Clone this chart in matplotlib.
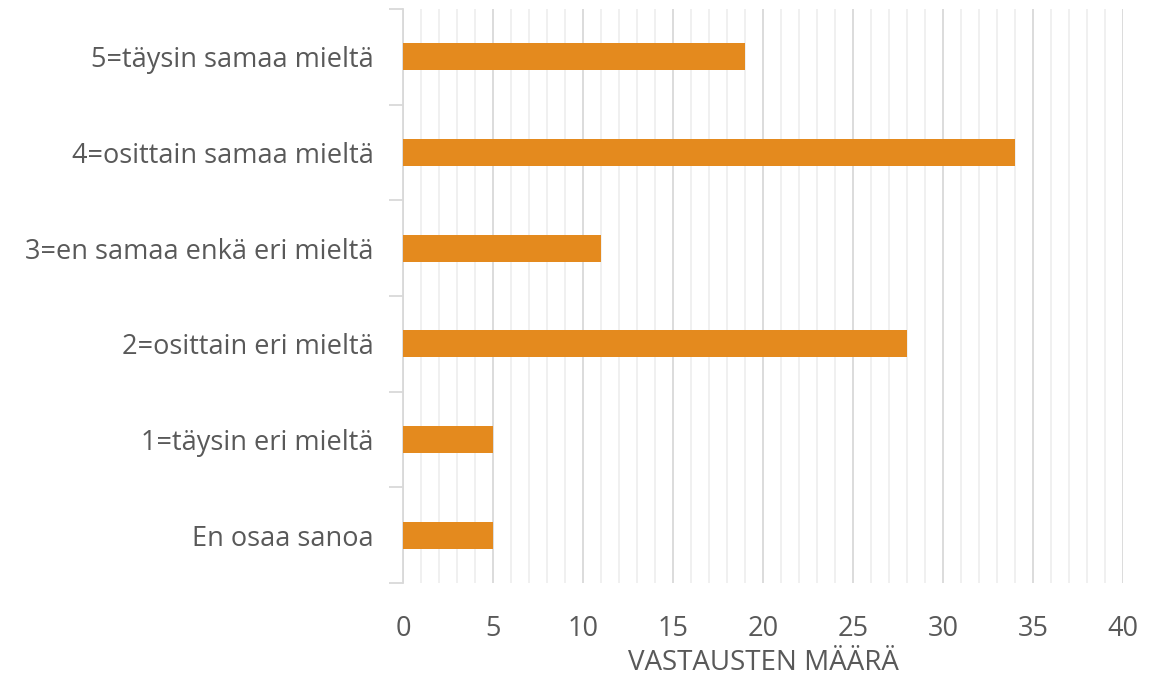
import numpy as np
import matplotlib.pyplot as plt
from matplotlib.ticker import MultipleLocator, FixedLocator

# Data (bottom to top)
categories = ["En osaa sanoa", "1=täysin eri mieltä", "2=osittain eri mieltä",
              "3=en samaa enkä eri mieltä", "4=osittain samaa mieltä",
              "5=täysin samaa mieltä"]
counts = [5, 5, 28, 11, 34, 19]

plt.rcParams['font.family'] = ['Open Sans', 'DejaVu Sans']
text_col = '#595959'

fig = plt.figure(figsize=(11.67, 6.84), dpi=100)
ax = fig.add_axes([403/1167, 1 - 583/684, 720/1167, 574/684])

y = np.arange(len(categories))
ax.barh(y, counts, height=0.28, color='#E48A1E', zorder=3)

ax.set_xlim(0, 40)
ax.set_ylim(-0.5, len(categories) - 0.5)

ax.xaxis.set_major_locator(MultipleLocator(5))
ax.xaxis.set_minor_locator(MultipleLocator(1))
ax.grid(axis='x', which='major', color='#D9D9D9', linewidth=1.3, zorder=0)
ax.grid(axis='x', which='minor', color='#EFEFEF', linewidth=1.3, zorder=0)

ax.set_yticks(y)
ax.set_yticklabels(categories)
ax.yaxis.set_minor_locator(FixedLocator(np.arange(-0.5, len(categories), 1)))
ax.tick_params(axis='y', which='major', length=0, pad=21, labelsize=19.5, labelcolor=text_col)
ax.tick_params(axis='y', which='minor', length=10, width=1.3, color='#D9D9D9')
ax.tick_params(axis='x', which='both', length=0, pad=23, labelsize=19.5, labelcolor=text_col)

for s in ['top', 'right', 'bottom']:
    ax.spines[s].set_visible(False)
ax.spines['left'].set_color('#D9D9D9')
ax.spines['left'].set_linewidth(1.3)

ax.set_xlabel('VASTAUSTEN MÄÄRÄ', fontsize=20, color=text_col, labelpad=4)

fig.savefig('out.png', dpi=100)
